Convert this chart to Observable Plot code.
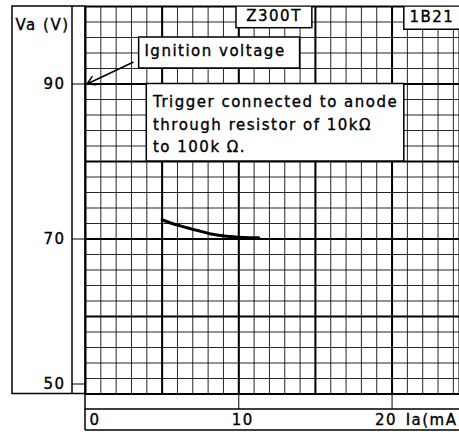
<!DOCTYPE html>
<html>
<head>
<meta charset="utf-8">
<script src="https://cdn.jsdelivr.net/npm/d3@7"></script>
<script src="https://cdn.jsdelivr.net/npm/@observablehq/plot@0.6"></script>
<style>
  html, body { margin: 0; padding: 0; background: #fff; }
  svg text { font-family: "DejaVu Sans", sans-serif; stroke: #000; stroke-width: 0.35px; }
</style>
</head>
<body>
<div id="chart"></div>
<script>
// ---- data ----
const yTickValues = [50, 70, 90];
const xTickValues = [0, 10, 20];
const yLabel = "Va (V)";
const xLabel = "Ia(mA";
const tubeNames = ["Z300T", "1B21"];
const ignitionLabel = "Ignition voltage";
const ignitionVoltage = 90;
const noteLines = ["Trigger connected to anode", "through resistor of 10kΩ", "to 100k Ω."];
// operating curve: anode current (mA) vs anode voltage (V)
const currentMA = [5.0, 5.5, 6.2, 7.3, 8.2, 9.2, 10.3, 11.3];
const anodeV    = [72.5, 72.1, 71.7, 71.1, 70.65, 70.35, 70.2, 70.15];
// grid
const minorX = d3.range(0, 25, 1);
const minorY = d3.range(50, 101, 2);
const majorX = [5, 10, 15, 20];
const majorY = [60, 70, 80, 90];

const curve = currentMA.map((c, i) => ({I: c, V: anodeV[i]}));

// annotation boxes (data coordinates)
const boxes = [
  {x1: 3.5, x2: 14.0, y1: 92, y2: 96},      // ignition label
  {x1: 4.0, x2: 20.8, y1: 80, y2: 90},      // trigger note
  {x1: 9.85, x2: 14.8, y1: 97.2, y2: 100},  // Z300T
  {x1: 20.8, x2: 25, y1: 97.0, y2: 100}     // 1B21
];

const W = 459, H = 432;
const mL = 85, mR = 0, mT = 6, mB = 38.5;

const chart = Plot.plot({
  width: W, height: H,
  marginLeft: mL, marginRight: mR, marginTop: mT, marginBottom: mB,
  style: {background: "#fff", color: "#000", fontSize: "15px", letterSpacing: "1.5px"},
  x: {domain: [0, 24.4], axis: null},
  y: {domain: [50, 100], axis: null},
  marks: [
    Plot.ruleX(minorX, {stroke: "#000", strokeWidth: 1, strokeOpacity: 0.85}),
    Plot.ruleY(minorY, {stroke: "#000", strokeWidth: 1, strokeOpacity: 0.85}),
    Plot.ruleX(majorX, {stroke: "#000", strokeWidth: 2}),
    Plot.ruleY(majorY, {stroke: "#000", strokeWidth: 2}),
    Plot.frame({stroke: "#000", strokeWidth: 2}),
    Plot.rect(boxes, {x1: "x1", x2: "x2", y1: "y1", y2: "y2", fill: "#fff", stroke: "#000", strokeWidth: 1.5, clip: true}),
    Plot.text([ignitionLabel], {x: 8.45, y: 94.2, text: d => d, textAnchor: "middle", fontSize: 15}),
    Plot.text([noteLines.join("\n")], {x: 4.4, y: 85, text: d => d, textAnchor: "start", lineAnchor: "middle", lineHeight: 1.5, fontSize: 15}),
    Plot.text([tubeNames[0]], {x: 12.3, y: 98.7, text: d => d, textAnchor: "middle", fontSize: 15}),
    Plot.text([tubeNames[1]], {x: 22.6, y: 98.6, text: d => d, textAnchor: "middle", fontSize: 15}),
    Plot.arrow([{x1: 3.1, y1: 92.8, x2: 0.1, y2: ignitionVoltage}], {x1: "x1", y1: "y1", x2: "x2", y2: "y2", stroke: "#000", strokeWidth: 1.5, headLength: 9, insetEnd: 0}),
    Plot.line(curve, {x: "I", y: "V", curve: "monotone-x", stroke: "#000", strokeWidth: 3}),
    // y axis
    Plot.axisY({ticks: yTickValues.filter(v => v !== 50), tickSize: 13, tickPadding: 7, fontSize: 15, tickFormat: d => String(d)}),
    Plot.axisY({ticks: [50], tickSize: 13, tickPadding: 7, fontSize: 15, dy: -10, tickFormat: d => String(d)}),
    Plot.text([yLabel], {frameAnchor: "top-left", dx: -43, dy: 19, text: d => d, textAnchor: "middle", lineAnchor: "middle", fontSize: 15}),
    // x axis ticks in strip
    Plot.axisX({ticks: xTickValues.filter(v => v !== 0), tickSize: 15.5, tickFormat: () => ""}),
    Plot.text([xTickValues[0]], {x: d => d, frameAnchor: "bottom", dy: 26, dx: 4, text: d => String(d), textAnchor: "start", lineAnchor: "middle", fontSize: 15}),
    Plot.text([xTickValues[1]], {x: d => d, frameAnchor: "bottom", dy: 26, dx: 4, text: d => String(d), textAnchor: "middle", lineAnchor: "middle", fontSize: 15}),
    Plot.text([xTickValues[2]], {x: d => d, frameAnchor: "bottom", dy: 26, dx: -6, text: d => String(d), textAnchor: "middle", lineAnchor: "middle", fontSize: 15}),
    Plot.text([xLabel], {frameAnchor: "bottom-right", dy: 26, dx: -2, text: d => d, textAnchor: "end", lineAnchor: "middle", fontSize: 15})
  ]
});

// decorative panel borders outside the plotting frame
const svg = d3.select(chart);
const g = svg.append("g").attr("stroke", "#000").attr("fill", "none");
const bottomY = H - mB;
g.append("rect").attr("x", 12).attr("y", mT).attr("width", mL - 12).attr("height", bottomY - mT).attr("stroke-width", 1.5);
g.append("line").attr("x1", mL - 13).attr("x2", mL - 13).attr("y1", mT).attr("y2", bottomY).attr("stroke-width", 1.5);
g.append("line").attr("x1", mL).attr("x2", mL).attr("y1", bottomY).attr("y2", H - 2).attr("stroke-width", 1.5);
g.append("line").attr("x1", mL).attr("x2", W).attr("y1", bottomY + 15.5).attr("y2", bottomY + 15.5).attr("stroke-width", 1.5);
g.append("line").attr("x1", mL).attr("x2", W).attr("y1", H - 2).attr("y2", H - 2).attr("stroke-width", 1.5);

document.getElementById("chart").appendChild(chart);
</script>
</body>
</html>
